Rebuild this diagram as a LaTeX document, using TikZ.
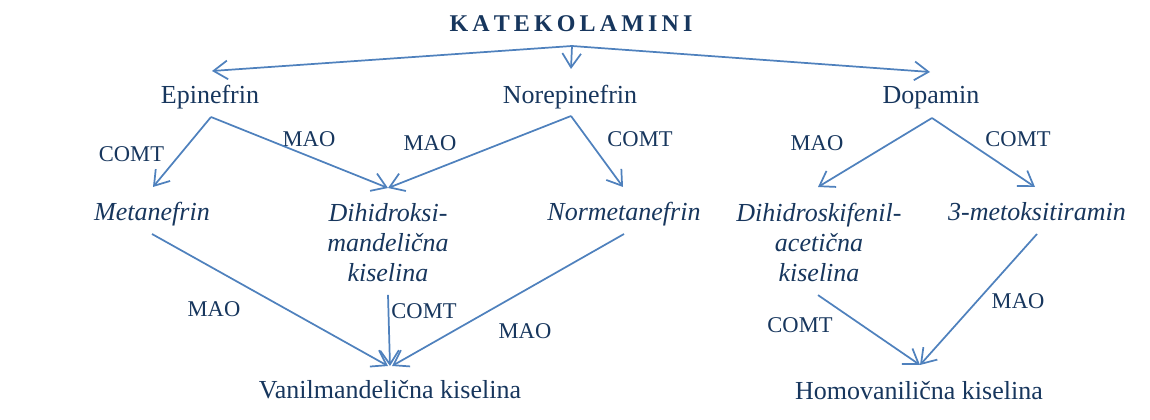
\documentclass[tikz,border=0pt]{standalone}
\usepackage{fontspec}
\setmainfont{Liberation Serif}
\usetikzlibrary{arrows.meta,calc}
\definecolor{txtblue}{HTML}{17365D}
\definecolor{lineblue}{HTML}{4F81BD}
\newcommand{\lsp}{\kern3.1pt}
\begin{document}
\begin{tikzpicture}[x=0.75pt,y=-0.75pt,
  lbl/.style={text=txtblue,inner sep=0pt,anchor=base,font=\fontsize{19.5}{22.5}\selectfont},
  ital/.style={lbl,font=\fontsize{19.5}{22.5}\selectfont\itshape},
  multi/.style={ital,align=center,anchor=north},
  enz/.style={text=txtblue,inner sep=0pt,anchor=base,font=\fontsize{16.9}{20}\selectfont},
  titlebox/.style={text=txtblue,inner sep=0pt,anchor=base,font=\fontsize{18}{21}\selectfont\bfseries},
  plainline/.style={draw=lineblue,line width=1.3pt},
  arr/.style={plainline,-{Straight Barb[length=10.5pt,width=14pt,line width=1.3pt]}}]
\useasboundingbox (0,0) rectangle (1150,420);

% texts
\node[titlebox] (kat) at (571,32) {K\lsp A\lsp T\lsp E\lsp K\lsp O\lsp L\lsp A\lsp M\lsp I\lsp N\lsp I};
\coordinate (jn) at ($(kat.base)+(1,14)$);
\node[lbl] (epi) at (210,104) {Epinefrin};
\node[lbl] (nor) at (570,104) {Norepinefrin};
\node[lbl] (dop) at (931,104) {Dopamin};
\node[ital] (meta) at (152,221) {Metanefrin};
\node[multi] (dmk) at (388,203) {Dihidroksi-\\mandelična\\kiselina};
\node[ital] (norm) at (624,221) {Normetanefrin};
\node[multi] (dfak) at (819,203) {Dihidroskifenil-\\acetična\\kiselina};
\node[ital] (mtir) at (1037,221) {3-metoksitiramin};
\node[lbl] (vmk) at (390,398) {Vanilmandelična kiselina};
\node[lbl] (hvk) at (919,399) {Homovanilična kiselina};

% enzyme labels
\node[enz] (e1) at (131.5,162) {COMT};
\node[enz] (e2) at (309,147) {MAO};
\node[enz] (e3) at (430,151) {MAO};
\node[enz] (e4) at (640,147) {COMT};
\node[enz] (e5) at (817,151) {MAO};
\node[enz] (e6) at (1018,147) {COMT};
\node[enz] (e7) at (214,317) {MAO};
\node[enz] (e8) at (424,319) {COMT};
\node[enz] (e9) at (525,339) {MAO};
\node[enz] (e10) at (800,333) {COMT};
\node[enz] (e11) at (1018,309) {MAO};

% top split
\draw[arr] (jn) -- ($(epi.base)+(2,-33)$);
\draw[arr] (jn) -- ($(nor.base)+(1,-35)$);
\draw[arr] (jn) -- ($(dop.base)+(-1,-32)$);

% row 1 -> row 2
\draw[arr] ($(epi.base)+(1,13)$) -- ($(meta.base)+(1,-34)$);
\draw[arr] ($(epi.base)+(1,13)$) -- ($(dmk.north)+(0,-15)$);
\draw[arr] ($(nor.base)+(1,12)$) -- ($(dmk.north)+(0,-15)$);
\draw[arr] ($(nor.base)+(1,12)$) -- ($(norm.base)+(-1,-34)$);
\draw[arr] ($(dop.base)+(1,14)$) -- ($(dfak.north)+(-1,-16)$);
\draw[arr] ($(dop.base)+(1,14)$) -- ($(mtir.base)+(-2,-34)$);

% row 2 -> bottom
\draw[arr] ($(meta.base)+(0,13)$) -- ($(vmk.base)+(-2,-32)$);
\draw[arr] ($(dmk.south)+(0,13)$) -- ($(vmk.base)+(0,-32)$);
\draw[arr] ($(norm.base)+(0,13)$) -- ($(vmk.base)+(2,-32)$);
\draw[arr] ($(dfak.south)+(-1,13)$) -- ($(hvk.base)+(1,-34)$);
\draw[arr] ($(mtir.base)+(0,13)$) -- ($(hvk.base)+(1,-34)$);
\end{tikzpicture}
\end{document}
